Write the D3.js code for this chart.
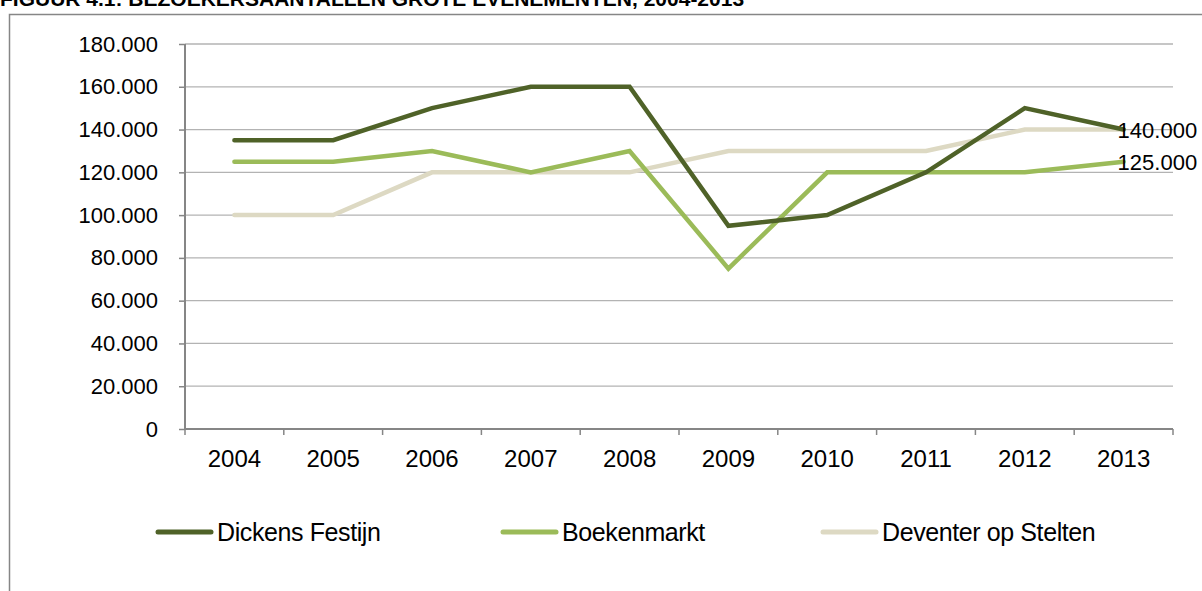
<!DOCTYPE html>
<html><head><meta charset="utf-8">
<script src="https://cdn.jsdelivr.net/npm/d3@7"></script>
<style>body{margin:0;background:#fff;}svg{display:block;font-family:Arial,"Liberation Sans",sans-serif;}</style>
</head><body><svg id="c" width="1202" height="591"></svg>
<script>
const years = ["2004","2005","2006","2007","2008","2009","2010","2011","2012","2013"];
const dickens = [135000,135000,150000,160000,160000,95000,100000,120000,150000,140000];
const boekenmarkt = [125000,125000,130000,120000,130000,75000,120000,120000,120000,125000];
const deventer = [100000,100000,120000,120000,120000,130000,130000,130000,140000,140000];
const seriesNames = ["Dickens Festijn","Boekenmarkt","Deventer op Stelten"];
const colors = ["#4f6228","#9bbb59","#ddd9c3"];
const yTicks = [0,20000,40000,60000,80000,100000,120000,140000,160000,180000];
const title = "FIGUUR 4.1: BEZOEKERSAANTALLEN GROTE EVENEMENTEN, 2004-2013";

const svg = d3.select("#c");
const FF = "Arial,'Liberation Sans',sans-serif";
const fmt = v => d3.format(",")(v).replace(/,/g,".");

svg.append("text").attr("x",0).attr("y",6).attr("font-size",21).attr("font-weight","bold").text(title);
svg.append("path").attr("d","M9.5,591 V14.5 H1202").attr("fill","none").attr("stroke","#868686").attr("stroke-width",1.5);

const x = d3.scaleBand().domain(years).range([185,1173]);
const y = d3.scaleLinear().domain([0,180000]).range([429,44]);

// gridlines
svg.append("g").selectAll("line").data(yTicks.slice(1)).join("line")
  .attr("x1",185).attr("x2",1173).attr("y1",d=>y(d)).attr("y2",d=>y(d))
  .attr("stroke","#b3b3b3").attr("stroke-width",1.3);

// y axis
const ya = svg.append("g").attr("transform","translate(185,0)")
  .call(d3.axisLeft(y).tickValues(yTicks).tickFormat(fmt).tickSize(6).tickPadding(21));
ya.select(".domain").attr("stroke","#868686").attr("stroke-width",2).attr("d","M0,429V44");
ya.selectAll(".tick line").attr("stroke","#868686").attr("stroke-width",1.5);
ya.selectAll("text").attr("font-size",22).attr("fill","#000").attr("font-family",FF);

// x axis
const xa = svg.append("g").attr("transform","translate(0,429)")
  .call(d3.axisBottom(x).tickSize(0).tickPadding(0));
xa.select(".domain").attr("stroke","#868686").attr("stroke-width",2).attr("d","M185,0H1173");
xa.selectAll("text").attr("font-size",24).attr("fill","#000").attr("font-family",FF)
  .attr("dy",null).attr("y",38);
// x tick marks at band boundaries
const bounds = years.map(d=>x(d)).concat([x.range()[1]]);
svg.append("g").selectAll("line").data(bounds).join("line")
  .attr("x1",d=>d).attr("x2",d=>d).attr("y1",429).attr("y2",435)
  .attr("stroke","#868686").attr("stroke-width",1.5);

const data = [dickens, boekenmarkt, deventer];
const line = d3.line().x((d,i)=>x(years[i])+x.bandwidth()/2).y(d=>y(d));
[2,1,0].forEach(k=>{
  svg.append("path").datum(data[k]).attr("d",line).attr("fill","none")
    .attr("stroke",colors[k]).attr("stroke-width",4.5).attr("stroke-linejoin","miter").attr("stroke-linecap","round");
});

// end labels
const last = years.length-1;
const lx = x(years[last])+x.bandwidth()/2 - 6;
svg.append("text").attr("x",lx).attr("y",y(deventer[last])+8).attr("font-size",22).text(fmt(deventer[last]));
svg.append("text").attr("x",lx).attr("y",y(boekenmarkt[last])+8).attr("font-size",22).text(fmt(boekenmarkt[last]));

// legend
const legX = [156,501,821];
seriesNames.forEach((n,i)=>{
  svg.append("line").attr("x1",legX[i]+2).attr("x2",legX[i]+55).attr("y1",532).attr("y2",532)
    .attr("stroke",colors[i]).attr("stroke-width",5).attr("stroke-linecap","round");
  svg.append("text").attr("x",legX[i]+61).attr("y",541).attr("font-size",25).attr("letter-spacing",-0.4).text(n);
});
</script></body></html>
